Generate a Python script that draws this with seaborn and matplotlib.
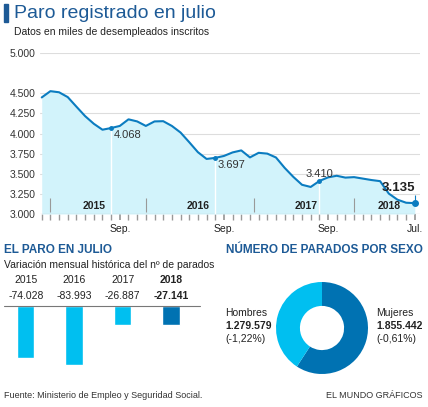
import matplotlib
matplotlib.use("Agg")
import matplotlib.pyplot as plt
import seaborn as sns
import numpy as np
import pandas as pd

sns.set_theme(style="white")
plt.rcParams['font.family'] = ['Liberation Sans', 'DejaVu Sans']

# Data
months = pd.date_range("2014-12-01", "2018-07-01", freq="MS")
paro = [4448, 4526, 4512, 4452, 4333, 4216, 4121, 4047, 4068, 4094, 4176, 4150,
        4094, 4150, 4153, 4094, 4012, 3892, 3768, 3684, 3697, 3721, 3765, 3790,
        3703, 3760, 3750, 3702, 3573, 3461, 3363, 3336, 3410, 3455, 3475, 3452,
        3458, 3440, 3422, 3408, 3254, 3178, 3140, 3135]
labels_idx = [8, 20, 32]
labels_txt = ["4.068", "3.697", "3.410"]
year_names = ["2015", "2016", "2017", "2018"]
yticks = [3000, 3250, 3500, 3750, 4000, 4250, 4500, 5000]
ytick_labels = ["3.000", "3.250", "3.500", "3.750", "4.000", "4.250", "4.500", "5.000"]

bar_years = ["2015", "2016", "2017", "2018"]
bar_values = [-74028, -83993, -26887, -27141]
bar_labels = ["-74.028", "-83.993", "-26.887", "-27.141"]

sexo = ["Mujeres", "Hombres"]
sexo_values = [1855442, 1279579]

W, H = 428, 407
fig = plt.figure(figsize=(W/100, H/100), dpi=100)
def px(x0, y0, x1, y1):
    return fig.add_axes([x0/W, 1-y1/H, (x1-x0)/W, (y1-y0)/H])

title_blue = "#1d5a96"
light = "#00bff0"
dark = "#0072b2"
line_c = "#0b7cc0"

# Header
fig.add_artist(plt.Rectangle((4/W, 1-22/H), 4/W, 18/H, color=title_blue, transform=fig.transFigure))
fig.text(14/W, 1-13/H, "Paro registrado en julio", fontsize=14, color=title_blue, va="center")
fig.text(14/W, 1-32/H, "Datos en miles de desempleados inscritos", fontsize=7.5, color="#222", va="center")

# Line chart
ax = px(40, 53, 420, 214)
x = np.arange(len(paro))
df = pd.DataFrame({"x": x, "paro": paro})
ax.fill_between(x, 3000, paro, color="#d2f3fb", lw=0)
sns.lineplot(data=df, x="x", y="paro", ax=ax, color=line_c, lw=1.5)
ax.set_ylim(3000, 5000)
ax.set_xlim(-0.2, len(paro)-0.4)
for t in yticks[1:]:
    ax.axhline(t, color="#dddddd", lw=0.8, zorder=0)
ax.set_yticks(yticks)
ax.set_yticklabels(ytick_labels, fontsize=7.5, color="#333")
ax.tick_params(axis="y", length=0, pad=3)
ax.set_xticks([9, 21, 33, 43])
ax.set_xticklabels(["Sep.", "Sep.", "Sep.", "Jul."], fontsize=7.5, color="#222")
ax.set_xticks(x, minor=True)
ax.tick_params(axis="x", which="minor", length=4, color="#999", bottom=True)
ax.tick_params(axis="x", which="major", length=4, color="#999", bottom=True, pad=3)
ax.set_xlabel(""); ax.set_ylabel("")
for s in ax.spines.values():
    s.set_visible(False)
ax.axhline(3000, color="#999", lw=0.8)
for i, t in zip(labels_idx, labels_txt):
    ax.vlines(i, 3000, paro[i], color="white", lw=1)
    ax.plot(i, paro[i], "o", color=line_c, ms=2.5)
ax.text(labels_idx[0]+0.3, paro[labels_idx[0]]-30, labels_txt[0], fontsize=8, va="top", color="#333")
ax.text(labels_idx[1]+0.3, paro[labels_idx[1]]-30, labels_txt[1], fontsize=8, va="top", color="#333")
ax.text(labels_idx[2], paro[labels_idx[2]]+20, labels_txt[2], fontsize=8, va="bottom", ha="center", color="#333")
ax.plot(43, paro[-1], "o", color=line_c, ms=4)
ax.vlines(43, paro[-1], 3230, color=line_c, lw=0.8)
ax.text(43, 3250, "3.135", fontsize=9.5, fontweight="bold", ha="right", va="bottom", color="#222")
for sep in [1, 12, 24.5, 36]:
    ax.vlines(sep, 3020, 3200, color="#999", lw=0.8)
for xc, yn in zip([6, 18, 30.5, 40], year_names):
    ax.text(xc, 3100, yn, fontsize=7.5, fontweight="bold", ha="center", va="center", color="#222")

# Bar section
fig.text(4/W, 1-250/H, "EL PARO EN JULIO", fontsize=8.5, fontweight="bold", color=title_blue, va="center")
fig.text(4/W, 1-265/H, "Variación mensual histórica del nº de parados", fontsize=7.5, color="#222", va="center")
axb = px(4, 306, 200, 366)
bdf = pd.DataFrame({"year": bar_years, "v": bar_values})
sns.barplot(data=bdf, x="year", y="v", ax=axb, palette=[light, light, light, dark],
            hue="year", legend=False, width=0.36, saturation=1)
axb.set_ylim(-85000, 0)
axb.set_xlim(-0.45, 3.6)
axb.axis("off")
axb.plot([-0.45, 3.6], [0, 0], color="#777", lw=0.8, clip_on=False)
for i, (yr, lb) in enumerate(zip(bar_years, bar_labels)):
    fw = "bold" if i == 3 else "normal"
    axb.annotate(yr, (i, 0), xytext=(0, 19), textcoords="offset points", ha="center", va="center",
                 fontsize=7.5, fontweight=fw, color="#222")
    axb.annotate(lb, (i, 0), xytext=(0, 7), textcoords="offset points", ha="center", va="center",
                 fontsize=7.5, fontweight=fw, color="#222")

# Donut
fig.text(226/W, 1-250/H, "NÚMERO DE PARADOS POR SEXO", fontsize=8.5, fontweight="bold", color=title_blue, va="center")
axd = px(276, 282, 368, 374)
axd.pie(sexo_values, colors=[dark, light], startangle=90, counterclock=False, radius=1.0,
        wedgeprops=dict(width=0.52, edgecolor="none"))
axd.set_xlim(-1, 1); axd.set_ylim(-1, 1)
axd.set_aspect("equal")
fig.text(225/W, 1-313/H, "Hombres", fontsize=7.5, color="#222", va="center")
fig.text(225/W, 1-326/H, "1.279.579", fontsize=7.5, fontweight="bold", color="#222", va="center")
fig.text(225/W, 1-339/H, "(-1,22%)", fontsize=7.5, color="#222", va="center")
fig.text(376/W, 1-313/H, "Mujeres", fontsize=7.5, color="#222", va="center")
fig.text(376/W, 1-326/H, "1.855.442", fontsize=7.5, fontweight="bold", color="#222", va="center")
fig.text(376/W, 1-339/H, "(-0,61%)", fontsize=7.5, color="#222", va="center")

fig.text(4/W, 1-396/H, "Fuente: Ministerio de Empleo y Seguridad Social.", fontsize=6.5, color="#333", va="center")
fig.text(422/W, 1-396/H, "EL MUNDO GRÁFICOS", fontsize=6.5, color="#333", va="center", ha="right")

fig.savefig("out.png", dpi=100)
